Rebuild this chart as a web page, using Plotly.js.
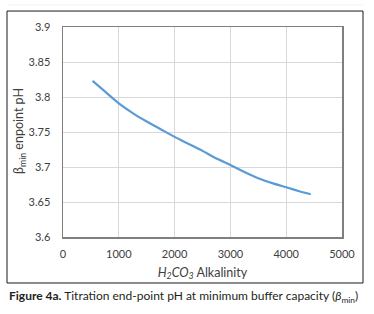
<!DOCTYPE html>
<html>
<head>
<meta charset="utf-8">
<script src="https://cdn.plot.ly/plotly-3.0.1.min.js"></script>
<style>html,body{margin:0;padding:0;background:#fff;}#chart{width:374px;height:314px;}</style>
</head>
<body>
<div id="chart"></div>
<script>
var alkalinity = [530, 750, 1000, 1250, 1500, 1750, 2000, 2250, 2500, 2750, 3000, 3250, 3500, 3750, 4000, 4250, 4440];
var endpointPH = [3.823, 3.808, 3.791, 3.777, 3.765, 3.754, 3.743, 3.733, 3.723, 3.712, 3.703, 3.693, 3.684, 3.677, 3.671, 3.665, 3.661];
var xTicks = [0, 1000, 2000, 3000, 4000, 5000];
var yTicks = [3.6, 3.65, 3.7, 3.75, 3.8, 3.85, 3.9];
var yTickText = ['3.6', '3.65', '3.7', '3.75', '3.8', '3.85', '3.9'];

var font = 'Lato, "Open Sans", sans-serif';
var trace = {
  x: alkalinity, y: endpointPH, type: 'scatter', mode: 'lines',
  line: {color: '#5b9bd5', width: 2.2, shape: 'spline', smoothing: 0.6},
  hoverinfo: 'skip'
};
var layout = {
  width: 374, height: 314,
  margin: {l: 63, r: 32, t: 27, b: 77},
  paper_bgcolor: '#ffffff', plot_bgcolor: '#ffffff',
  showlegend: false,
  font: {family: font, size: 11, color: '#595959'},
  xaxis: {
    range: [0, 5000], tickvals: xTicks, ticks: '', showline: true, mirror: true,
    linecolor: '#7f7f7f', linewidth: 1.5, showgrid: true, gridcolor: '#d9d9d9', gridwidth: 1,
    zeroline: false, ticklabelstandoff: 6, tickfont: {size: 11, color: '#404040'},
    title: {text: '<i>H<sub>2</sub>CO<sub>3</sub></i> Alkalinity', font: {size: 12.5, color: '#404040'}, standoff: 9}
  },
  yaxis: {
    range: [3.6, 3.9], tickvals: yTicks, ticktext: yTickText, ticks: '', showline: true, mirror: true,
    linecolor: '#7f7f7f', linewidth: 1.5, showgrid: true, gridcolor: '#d9d9d9', gridwidth: 1,
    zeroline: false, ticklabelstandoff: 9, tickfont: {size: 11, color: '#404040'}
  },
  shapes: [
    {type: 'rect', xref: 'paper', yref: 'paper', x0: -0.2007, x1: 1.0753, y0: -0.219, y1: 1.076,
     line: {color: '#1a1a1a', width: 1}, fillcolor: 'rgba(0,0,0,0)', layer: 'below'},
    {type: 'line', xref: 'paper', yref: 'paper', x0: -0.2007, x1: 1.0753, y0: 1.105, y1: 1.105,
     line: {color: '#f2f2f2', width: 1}}
  ],
  annotations: [
    {xref: 'paper', yref: 'paper', x: -0.154, y: 0.505, xanchor: 'center', yanchor: 'middle', showarrow: false,
     textangle: -90, text: 'β<sub>min</sub> enpoint pH', font: {family: font, size: 12.5, color: '#404040'}},
    {xref: 'paper', yref: 'paper', x: -0.2007, y: -0.281, xanchor: 'left', yanchor: 'middle', showarrow: false,
     text: '<b>Figure 4a.</b> Titration end-point pH at minimum buffer capacity (<i>β</i><sub>min</sub>)',
     font: {family: font, size: 12, color: '#231f20'}}
  ]
};
Plotly.newPlot('chart', [trace], layout, {displayModeBar: false, staticPlot: true});
</script>
</body>
</html>
